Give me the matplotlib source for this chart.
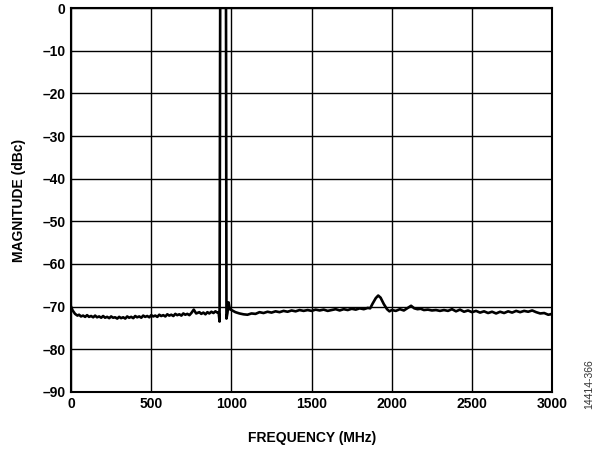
import matplotlib
matplotlib.use("Agg")
import matplotlib.pyplot as plt
from matplotlib.ticker import FixedLocator

plt.rcParams["font.family"] = ["Liberation Sans", "DejaVu Sans"]
plt.rcParams["font.weight"] = "bold"

# trace (MHz, dBc)
freq = [
    0, 10, 25, 40, 50, 62, 75, 88, 100, 112, 125, 138, 150, 162, 175, 188, 200,
    212, 225, 238, 250, 262, 275, 288, 300, 312, 325, 338, 350, 362, 375, 388,
    400, 412, 425, 438, 450, 462, 475, 488, 500, 512, 525, 538, 550, 562, 575,
    588, 600, 612, 625, 638, 650, 662, 675, 688, 700, 712, 725, 738, 750, 765,
    780, 800, 812, 825, 838, 850, 862, 875, 888, 900, 912, 920,
    926, 930, 966, 969, 975, 982, 990,
    1010, 1025, 1050, 1075, 1100, 1125, 1150, 1175, 1200, 1225, 1250, 1275,
    1300, 1325, 1350, 1375, 1400, 1425, 1450, 1475, 1500, 1525, 1550, 1575,
    1600, 1625, 1650, 1675, 1700, 1725, 1750, 1775, 1800, 1825, 1850, 1865,
    1880, 1900, 1915, 1930, 1950, 1970, 1985, 2000, 2025, 2050, 2075, 2100,
    2120, 2140, 2160, 2180, 2200, 2225, 2250, 2275, 2300, 2325, 2350, 2375,
    2400, 2425, 2450, 2475, 2500, 2525, 2550, 2575, 2600, 2625, 2650, 2675,
    2700, 2725, 2750, 2775, 2800, 2825, 2850, 2875, 2900, 2925, 2950, 2975,
    2990, 3000,
]
magnitude = [
    -70.0, -70.9, -71.7, -72.1, -71.9, -72.3, -72.1, -72.4, -72.0, -72.4,
    -72.2, -72.5, -72.1, -72.5, -72.3, -72.6, -72.2, -72.6, -72.4, -72.7,
    -72.3, -72.6, -72.5, -72.8, -72.4, -72.7, -72.5, -72.8, -72.3, -72.6,
    -72.4, -72.7, -72.2, -72.5, -72.3, -72.6, -72.1, -72.4, -72.2, -72.5,
    -72.0, -72.3, -72.1, -72.4, -71.9, -72.2, -72.0, -72.3, -71.8, -72.1,
    -71.9, -72.2, -71.7, -72.0, -71.8, -72.1, -71.6, -71.9, -71.7, -72.0,
    -71.5, -70.7, -71.6, -71.3, -71.7, -71.4, -71.8, -71.3, -71.6, -71.2,
    -71.5, -71.1, -71.4, -71.3,
    -73.5, 3.0, 3.0, -72.8, -71.5, -69.0, -70.6,
    -71.0, -71.3, -71.6, -71.8, -71.9, -71.6, -71.7, -71.3, -71.5, -71.2,
    -71.4, -71.1, -71.3, -71.0, -71.2, -70.9, -71.1, -70.8, -71.0, -70.8,
    -71.0, -70.7, -70.9, -70.7, -71.0, -70.8, -70.6, -70.9, -70.6, -70.8,
    -70.5, -70.7, -70.4, -70.6, -70.3, -70.4,
    -69.3, -68.0, -67.4, -67.9, -69.4, -70.6, -71.1, -70.8, -71.0, -70.6,
    -70.9, -70.3, -69.8, -70.4, -70.6, -70.5, -70.8, -70.7, -70.9, -70.8,
    -71.0, -70.8, -71.0, -70.6, -71.1, -70.7, -71.2, -70.9, -71.3, -71.0,
    -71.4, -71.1, -71.5, -71.2, -71.6, -71.2, -71.5, -71.1, -71.4, -71.0,
    -71.3, -71.0, -71.2, -70.9, -71.3, -71.6, -71.5, -71.9, -71.8, -71.6,
]

x_ticks = [0, 500, 1000, 1500, 2000, 2500, 3000]
y_ticks = [0, -10, -20, -30, -40, -50, -60, -70, -80, -90]

fig = plt.figure(figsize=(5.97, 4.51), dpi=100)
ax = fig.add_axes([0.119, 0.131, 0.806, 0.851])

ax.plot(freq, magnitude, color="black", lw=1.9, solid_joinstyle="round")

ax.set_xlim(0, 3000)
ax.set_ylim(-90, 0)
ax.xaxis.set_major_locator(FixedLocator(x_ticks))
ax.yaxis.set_major_locator(FixedLocator(y_ticks))
ax.set_yticklabels([str(v).replace("-", "\u2013") for v in y_ticks])
ax.tick_params(length=0, labelsize=10, pad=4)
ax.grid(True, color="black", lw=1.0)
for s in ax.spines.values():
    s.set_linewidth(1.5)

ax.set_xlabel("FREQUENCY (MHz)", fontsize=10, fontweight="bold", labelpad=14)
ax.set_ylabel("MAGNITUDE (dBc)", fontsize=10, fontweight="bold", labelpad=12)

fig.text(0.987, 0.148, "14414-366", rotation=90, fontsize=7.5, fontweight="normal",
         ha="center", va="center", color="#333333")

fig.savefig("out.png", dpi=100)
